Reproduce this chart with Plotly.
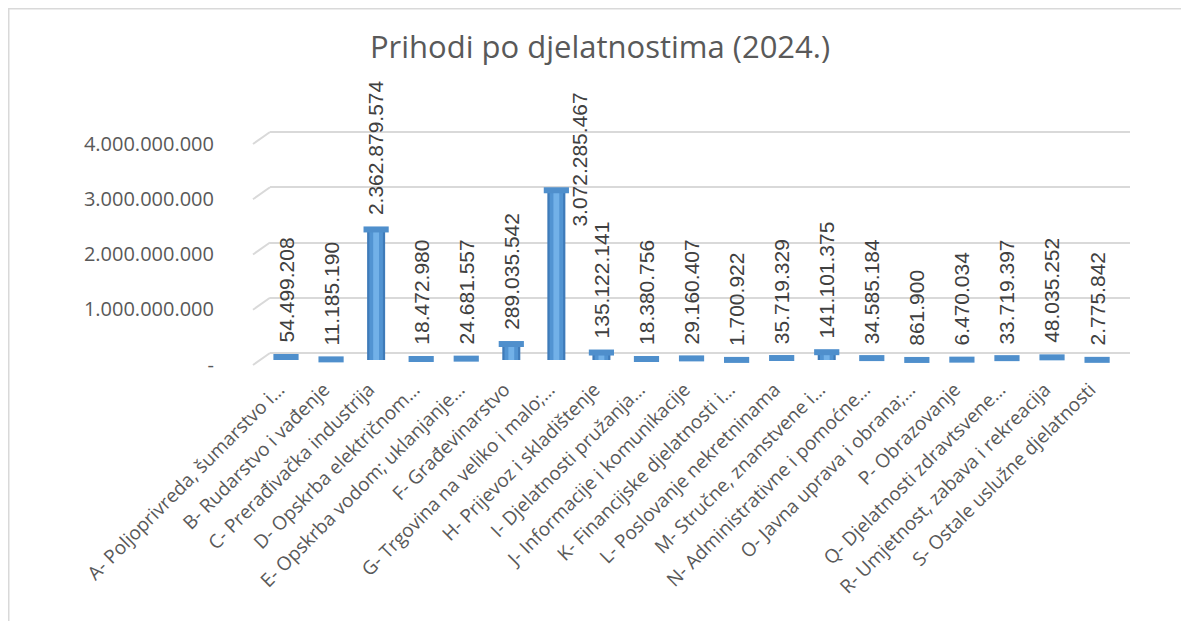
import plotly.graph_objects as go

# ---------------- data ----------------
categories = [
    "A- Poljoprivreda, šumarstvo i…",
    "B- Rudarstvo i vađenje",
    "C- Prerađivačka industrija",
    "D- Opskrba električnom…",
    "E- Opskrba vodom; uklanjanje…",
    "F- Građevinarstvo",
    "G- Trgovina na veliko i malo;…",
    "H- Prijevoz i skladištenje",
    "I- Djelatnosti pružanja…",
    "J- Informacije i komunikacije",
    "K- Financijske djelatnosti i…",
    "L- Poslovanje nekretninama",
    "M- Stručne, znanstvene i…",
    "N- Administrativne i pomoćne…",
    "O- Javna uprava i obrana;…",
    "P- Obrazovanje",
    "Q- Djelatnosti zdravtsvene…",
    "R- Umjetnost, zabava i rekreacija",
    "S- Ostale uslužne djelatnosti",
]
values = [
    54499208, 11185190, 2362879574, 18472980, 24681557, 289035542,
    3072285467, 135122141, 18380756, 29160407, 1700922, 35719329,
    141101375, 34585184, 861900, 6470034, 33719397, 48035252, 2775842,
]
y_tick_values = [0, 1000000000, 2000000000, 3000000000, 4000000000]
y_tick_labels = ["-", "1.000.000.000", "2.000.000.000", "3.000.000.000", "4.000.000.000"]
chart_title = "Prihodi po djelatnostima (2024.)"


def fmt(v):
    return f"{v:,}".replace(",", ".")


# ---------------- geometry (figure px; page = figure + 8 body margin) ----------------
W, H = 1181, 613
PL, PR, PT, PB = 262, 1122, 92, 359     # plot area
PX_PER_UNIT = 55.25 / 1e9
SPAN = (PB - PT) / PX_PER_UNIT
BAR_ZERO, GRID_ZERO, LABEL_ZERO = 352, 345, 356.5   # px of value 0 for bars / back-wall grid / tick labels


def axis_range(zero_px):
    r0 = -(PB - zero_px) / PX_PER_UNIT
    return [r0, r0 + SPAN]


n = len(categories)
cat_step = 45.06
first_center = 278
x_range = [-(first_center - PL) / cat_step,
           (n - 1) + (PR - (first_center + (n - 1) * cat_step)) / cat_step]
LABEL_SHIFT = 7 / cat_step        # category labels sit slightly left of the bars
x2_range = [x_range[0] + LABEL_SHIFT, x_range[1] + LABEL_SHIFT]


def px_x(px):
    return (px - PL) / (PR - PL)


def px_y(py):
    return (PB - py) / (PB - PT)


fig = go.Figure()

# cylinder body: dark edges, mid tone, light highlight
for w, col in [(0.40, "#3f7bb9"), (0.30, "#5294d2"), (0.13, "#72b1e8")]:
    fig.add_trace(go.Bar(x=categories, y=values, width=w, marker=dict(color=col, line=dict(width=0)),
                         hoverinfo="skip", showlegend=False))
# cylinder tops
fig.add_trace(go.Scatter(x=categories, y=values, mode="markers",
                         marker=dict(symbol="line-ew", size=18, line=dict(width=6, color="#4f8fcc")),
                         hoverinfo="skip", showlegend=False, cliponaxis=False))

# helper traces that activate the grid / label axes
fig.add_trace(go.Scatter(x=[categories[0]], y=[0], yaxis="y2", mode="markers",
                         marker=dict(opacity=0), hoverinfo="skip", showlegend=False))
fig.add_trace(go.Scatter(x=[categories[0]], y=[0], yaxis="y3", mode="markers",
                         marker=dict(opacity=0), hoverinfo="skip", showlegend=False))
fig.add_trace(go.Scatter(x=categories, y=[0] * n, xaxis="x2", mode="markers",
                         marker=dict(opacity=0), hoverinfo="skip", showlegend=False))

# data labels
imax = values.index(max(values))
annotations = []
for i, (c, v) in enumerate(zip(categories, values)):
    a = dict(x=c, y=v, xref="x", yref="y", text=fmt(v), showarrow=False, textangle=-90,
             yanchor="bottom", xanchor="center", yshift=12,
             font=dict(family="Liberation Sans", size=21, color="#404040"))
    if i == imax:
        a.update(xshift=23, yshift=-38)
    annotations.append(a)

# depth diagonals at left of each gridline
shapes = []
for tv in y_tick_values:
    shapes.append(dict(type="line", xref="paper", yref="y2",
                       x0=px_x(PL - 17), x1=px_x(PL), y0=tv - 12 / PX_PER_UNIT, y1=tv,
                       line=dict(color="#d9d9d9", width=2)))
# outer chart frame (left and top)
shapes.append(dict(type="line", xref="paper", yref="paper", x0=px_x(0), x1=px_x(0), y0=px_y(0), y1=px_y(H + 5),
                   line=dict(color="#d9d9d9", width=3)))
shapes.append(dict(type="line", xref="paper", yref="paper", x0=px_x(0), x1=px_x(W + 5), y0=px_y(0), y1=px_y(0),
                   line=dict(color="#d9d9d9", width=3)))

fig.update_layout(
    width=W, height=H,
    margin=dict(l=PL, r=W - PR, t=PT, b=H - PB, pad=0),
    paper_bgcolor="white", plot_bgcolor="rgba(0,0,0,0)",
    barmode="overlay",
    showlegend=False,
    title=dict(text=chart_title, x=592 / W, xanchor="center", xref="container",
               y=1 - 39 / H, yanchor="middle", yref="container",
               font=dict(family="Open Sans", size=31, color="#595959")),
    xaxis=dict(range=x_range, showgrid=False, zeroline=False, showline=False,
               showticklabels=False),
    xaxis2=dict(range=x2_range, overlaying="x", anchor="y", side="bottom",
                type="category", categoryarray=categories,
                showgrid=False, zeroline=False, showline=False,
                ticks="outside", ticklen=3, tickcolor="rgba(0,0,0,0)", tickangle=-45,
                tickfont=dict(family="Open Sans", size=19, color="#595959")),
    yaxis=dict(range=axis_range(BAR_ZERO), showgrid=False, zeroline=False, showticklabels=False,
               showline=False),
    yaxis2=dict(range=axis_range(GRID_ZERO), overlaying="y", side="left",
                tickvals=y_tick_values, showticklabels=False, showgrid=True,
                gridcolor="#d9d9d9", gridwidth=2, zeroline=False, showline=False),
    yaxis3=dict(range=axis_range(LABEL_ZERO), overlaying="y", side="left",
                tickvals=y_tick_values, ticktext=y_tick_labels, showgrid=False, zeroline=False,
                showline=False, ticks="outside", ticklen=51, tickcolor="rgba(0,0,0,0)",
                tickfont=dict(family="Open Sans", size=20, color="#595959")),
    annotations=annotations,
    shapes=shapes,
)

fig.write_html("out.html")
